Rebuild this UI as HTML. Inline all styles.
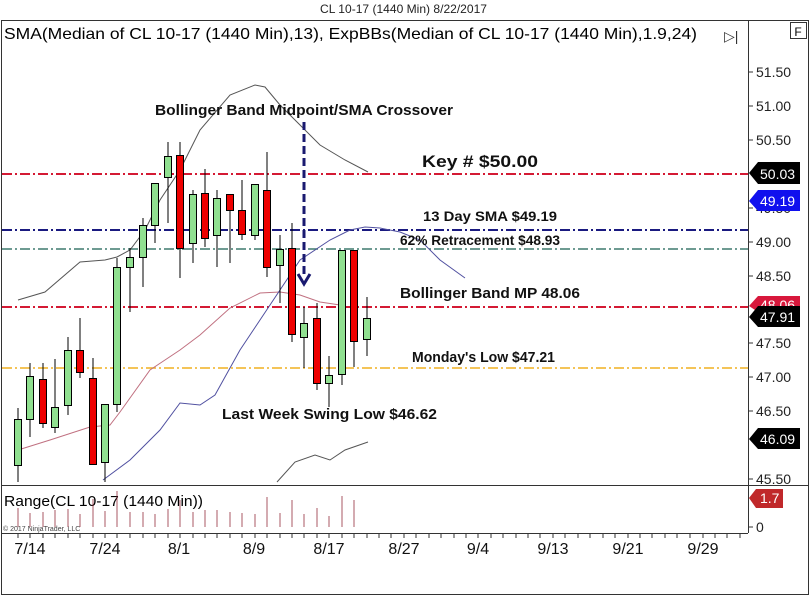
<!DOCTYPE html>
<html><head><meta charset="utf-8"><style>
html,body{margin:0;padding:0;background:#fff;}
svg{display:block;font-family:"Liberation Sans",Arial,sans-serif;}
</style></head><body>
<svg width="810" height="596" viewBox="0 0 810 596" xmlns="http://www.w3.org/2000/svg">
<rect x="0" y="0" width="810" height="596" fill="#fff"/>
<text x="320" y="13" font-size="12" textLength="167" lengthAdjust="spacingAndGlyphs" fill="#222">CL 10-17 (1440 Min)  8/22/2017</text>
<rect x="1.5" y="20.5" width="807" height="574" fill="none" stroke="#333"/>
<line x1="748.5" y1="21" x2="748.5" y2="533" stroke="#333"/>
<line x1="1" y1="485.5" x2="808" y2="485.5" stroke="#333"/>
<line x1="1" y1="533.5" x2="748" y2="533.5" stroke="#333"/>
<text x="4" y="39" font-size="16" textLength="693" lengthAdjust="spacingAndGlyphs" fill="#000">SMA(Median of CL 10-17 (1440 Min),13), ExpBBs(Median of CL 10-17 (1440 Min),1.9,24)</text>
<text x="724" y="41" font-size="14" fill="#333">▷|</text>
<rect x="790.5" y="22.5" width="16" height="16" fill="#fff" stroke="#333"/>
<text x="798" y="36" font-size="12" text-anchor="middle" fill="#000">F</text>

<g font-size="14" fill="#222">
<line x1="748" y1="72" x2="753" y2="72" stroke="#333"/><text x="756" y="77">51.50</text>
<line x1="748" y1="106" x2="753" y2="106" stroke="#333"/><text x="756" y="111">51.00</text>
<line x1="748" y1="140" x2="753" y2="140" stroke="#333"/><text x="756" y="145">50.50</text>
<line x1="748" y1="208" x2="753" y2="208" stroke="#333"/><text x="756" y="213">49.50</text>
<line x1="748" y1="242" x2="753" y2="242" stroke="#333"/><text x="756" y="247">49.00</text>
<line x1="748" y1="276" x2="753" y2="276" stroke="#333"/><text x="756" y="281">48.50</text>
<line x1="748" y1="343" x2="753" y2="343" stroke="#333"/><text x="756" y="348">47.50</text>
<line x1="748" y1="377" x2="753" y2="377" stroke="#333"/><text x="756" y="382">47.00</text>
<line x1="748" y1="411" x2="753" y2="411" stroke="#333"/><text x="756" y="416">46.50</text>
<line x1="748" y1="479" x2="753" y2="479" stroke="#333"/><text x="756" y="484">45.50</text>
<line x1="748" y1="527" x2="753" y2="527" stroke="#333"/><text x="756" y="532">0</text>
</g>
<g font-size="14">
<polygon points="749,173 758,162 800,162 800,184 758,184" fill="#000"/><text x="760" y="179" fill="#fff">50.03</text>
<polygon points="749,201 758,190 800,190 800,211 758,211" fill="#1010ee"/><text x="760" y="206" fill="#fff">49.19</text>
<polygon points="749,306 758,296 800,296 800,312 758,312" fill="#d8183c"/><text x="760" y="310" fill="#fff">48.06</text>
<polygon points="749,317 758,306 800,306 800,327 758,327" fill="#000"/><text x="760" y="322" fill="#fff">47.91</text>
<polygon points="749,439 758,428 800,428 800,449 758,449" fill="#000"/><text x="760" y="444" fill="#fff">46.09</text>
<polygon points="749,498 756,489 783,489 783,508 756,508" fill="#c0282a"/><text x="760" y="503" fill="#fff">1.7</text>
</g>

<g stroke-width="2" stroke-dasharray="10,3,2,3" fill="none">
<line x1="2" y1="174" x2="748" y2="174" stroke="#d41a34"/>
<line x1="2" y1="230" x2="748" y2="230" stroke="#1a1a80"/>
<line x1="2" y1="249" x2="748" y2="249" stroke="#3e7a6e" stroke-width="1.5"/>
<line x1="2" y1="307" x2="748" y2="307" stroke="#d41a34"/>
<line x1="2" y1="368" x2="748" y2="368" stroke="#f0b020" stroke-width="1.5"/>
</g>

<polyline fill="none" stroke="#555" stroke-width="1" points="18,300 45,292 80,262 105,260 117,257 130,250 145,230 160,200 180,170 200,130 230,95 255,85 265,87 280,105 300,125 320,145 345,160 368,172"/>
<polyline fill="none" stroke="#c07080" stroke-width="1" points="18,450 50,440 90,427 110,425 120,412 150,370 180,350 200,335 230,308 260,293 280,292 300,295 320,302 340,305"/>
<polyline fill="none" stroke="#5050a0" stroke-width="1" points="103,480 130,460 160,430 180,403 200,405 215,395 240,350 270,305 300,260 330,240 350,230 365,227 380,228 400,232 420,240 440,260 465,278"/>
<polyline fill="none" stroke="#555" stroke-width="1" points="277,482 295,462 315,455 330,460 345,450 368,442"/>

<g stroke="#000" stroke-width="1">
<line x1="18" y1="408" x2="18" y2="482"/><rect x="14.5" y="419.5" width="7" height="46" fill="#90e090"/>
<line x1="30" y1="363" x2="30" y2="437"/><rect x="26.5" y="376.5" width="7" height="43" fill="#90e090"/>
<line x1="43" y1="363" x2="43" y2="428"/><rect x="39.5" y="379.5" width="7" height="44" fill="#ee0000"/>
<line x1="55" y1="359" x2="55" y2="433"/><rect x="51.5" y="407.5" width="7" height="20" fill="#90e090"/>
<line x1="68" y1="337" x2="68" y2="415"/><rect x="64.5" y="350.5" width="7" height="55" fill="#90e090"/>
<line x1="80" y1="318" x2="80" y2="378"/><rect x="76.5" y="350.5" width="7" height="22" fill="#ee0000"/>
<line x1="93" y1="358" x2="93" y2="464"/><rect x="89.5" y="378.5" width="7" height="86" fill="#ee0000"/>
<line x1="105" y1="404" x2="105" y2="482"/><rect x="101.5" y="404.5" width="7" height="58" fill="#90e090"/>
<line x1="117" y1="258" x2="117" y2="412"/><rect x="113.5" y="267.5" width="7" height="137" fill="#90e090"/>
<line x1="130" y1="248" x2="130" y2="312"/><rect x="126.5" y="257.5" width="7" height="10" fill="#90e090"/>
<line x1="143" y1="218" x2="143" y2="287"/><rect x="139.5" y="225.5" width="7" height="32" fill="#90e090"/>
<line x1="155" y1="183" x2="155" y2="243"/><rect x="151.5" y="183.5" width="7" height="42" fill="#90e090"/>
<line x1="168" y1="142" x2="168" y2="223"/><rect x="164.5" y="156.5" width="7" height="21" fill="#90e090"/>
<line x1="180" y1="142" x2="180" y2="278"/><rect x="176.5" y="155.5" width="7" height="93" fill="#ee0000"/>
<line x1="193" y1="190" x2="193" y2="263"/><rect x="189.5" y="194.5" width="7" height="49" fill="#90e090"/>
<line x1="205" y1="169" x2="205" y2="247"/><rect x="201.5" y="193.5" width="7" height="45" fill="#ee0000"/>
<line x1="217" y1="190" x2="217" y2="267"/><rect x="213.5" y="198.5" width="7" height="37" fill="#90e090"/>
<line x1="230" y1="194" x2="230" y2="263"/><rect x="226.5" y="194.5" width="7" height="16" fill="#ee0000"/>
<line x1="242" y1="180" x2="242" y2="240"/><rect x="238.5" y="210.5" width="7" height="24" fill="#ee0000"/>
<line x1="255" y1="184" x2="255" y2="240"/><rect x="251.5" y="184.5" width="7" height="51" fill="#90e090"/>
<line x1="267" y1="152" x2="267" y2="277"/><rect x="263.5" y="190.5" width="7" height="77" fill="#ee0000"/>
<line x1="280" y1="235" x2="280" y2="303"/><rect x="276.5" y="249.5" width="7" height="16" fill="#90e090"/>
<line x1="292" y1="223" x2="292" y2="342"/><rect x="288.5" y="248.5" width="7" height="86" fill="#ee0000"/>
<line x1="304" y1="307" x2="304" y2="368"/><rect x="300.5" y="323.5" width="7" height="14" fill="#90e090"/>
<line x1="317" y1="303" x2="317" y2="390"/><rect x="313.5" y="318.5" width="7" height="65" fill="#ee0000"/>
<line x1="329" y1="356" x2="329" y2="407"/><rect x="325.5" y="375.5" width="7" height="8" fill="#90e090"/>
<line x1="342" y1="250" x2="342" y2="385"/><rect x="338.5" y="250.5" width="7" height="124" fill="#90e090"/>
<line x1="354" y1="250" x2="354" y2="367"/><rect x="350.5" y="250.5" width="7" height="91" fill="#ee0000"/>
<line x1="367" y1="297" x2="367" y2="356"/><rect x="363.5" y="318.5" width="7" height="21" fill="#90e090"/>
</g>

<line x1="304" y1="122" x2="304" y2="278" stroke="#1a1a70" stroke-width="3" stroke-dasharray="8,4"/>
<polyline points="298,274 304,284 310,274" fill="none" stroke="#1a1a70" stroke-width="3"/>

<g font-weight="bold" fill="#111" font-size="15" lengthAdjust="spacingAndGlyphs">
<text x="155" y="115" textLength="298" lengthAdjust="spacingAndGlyphs">Bollinger Band Midpoint/SMA Crossover</text>
<text x="422" y="167" font-size="17" textLength="116" lengthAdjust="spacingAndGlyphs">Key # $50.00</text>
<text x="423" y="221" font-size="14" textLength="134" lengthAdjust="spacingAndGlyphs">13 Day SMA $49.19</text>
<text x="400" y="245" font-size="14" textLength="160" lengthAdjust="spacingAndGlyphs">62% Retracement $48.93</text>
<text x="400" y="298" textLength="180" lengthAdjust="spacingAndGlyphs">Bollinger Band MP 48.06</text>
<text x="412" y="362" textLength="143" lengthAdjust="spacingAndGlyphs">Monday's Low $47.21</text>
<text x="222" y="419" textLength="215" lengthAdjust="spacingAndGlyphs">Last Week Swing Low $46.62</text>
</g>

<text x="4" y="506" font-size="15" textLength="199" lengthAdjust="spacingAndGlyphs" fill="#000">Range(CL 10-17 (1440 Min))</text>
<text x="3" y="531" font-size="7" fill="#444">© 2017 NinjaTrader, LLC</text>
<g stroke="#8b2030" stroke-width="1" opacity="0.75">
<line x1="18" y1="527" x2="18" y2="508"/><line x1="30" y1="527" x2="30" y2="513"/><line x1="43" y1="527" x2="43" y2="512"/>
<line x1="55" y1="527" x2="55" y2="510"/><line x1="68" y1="527" x2="68" y2="509"/><line x1="80" y1="527" x2="80" y2="514"/>
<line x1="93" y1="527" x2="93" y2="499"/><line x1="105" y1="527" x2="105" y2="511"/><line x1="117" y1="527" x2="117" y2="491"/>
<line x1="130" y1="527" x2="130" y2="512"/><line x1="143" y1="527" x2="143" y2="512"/><line x1="155" y1="527" x2="155" y2="514"/>
<line x1="168" y1="527" x2="168" y2="509"/><line x1="180" y1="527" x2="180" y2="500"/><line x1="193" y1="527" x2="193" y2="512"/>
<line x1="205" y1="527" x2="205" y2="510"/><line x1="217" y1="527" x2="217" y2="510"/><line x1="230" y1="527" x2="230" y2="512"/>
<line x1="242" y1="527" x2="242" y2="513"/><line x1="255" y1="527" x2="255" y2="514"/><line x1="267" y1="527" x2="267" y2="497"/>
<line x1="280" y1="527" x2="280" y2="513"/><line x1="292" y1="527" x2="292" y2="500"/><line x1="304" y1="527" x2="304" y2="514"/>
<line x1="317" y1="527" x2="317" y2="508"/><line x1="329" y1="527" x2="329" y2="516"/><line x1="342" y1="527" x2="342" y2="496"/>
<line x1="354" y1="527" x2="354" y2="500"/>
</g>
<g stroke="#333">
<path d="M18 533v5M30 533v5M43 533v5M55 533v5M68 533v5M80 533v5M93 533v5M105 533v5M117 533v5M130 533v5M143 533v5M155 533v5M168 533v5M180 533v5M193 533v5M205 533v5M217 533v5M230 533v5M242 533v5M255 533v5M267 533v5M280 533v5M292 533v5M304 533v5M317 533v5M329 533v5M342 533v5M354 533v5M367 533v5M379 533v5M391 533v5M404 533v5M416 533v5M429 533v5M441 533v5M454 533v5M466 533v5M478 533v5M491 533v5M503 533v5M516 533v5M528 533v5M540 533v5M553 533v5M565 533v5M578 533v5M590 533v5M603 533v5M615 533v5M628 533v5M640 533v5M652 533v5M665 533v5M677 533v5M690 533v5M703 533v5M715 533v5M727 533v5M740 533v5"/>
</g>
<g font-size="16" fill="#111" text-anchor="middle">
<text x="30" y="554">7/14</text><text x="105" y="554">7/24</text><text x="179" y="554">8/1</text>
<text x="254" y="554">8/9</text><text x="329" y="554">8/17</text><text x="404" y="554">8/27</text>
<text x="478" y="554">9/4</text><text x="553" y="554">9/13</text><text x="628" y="554">9/21</text>
<text x="703" y="554">9/29</text>
</g>
</svg>
</body></html>
